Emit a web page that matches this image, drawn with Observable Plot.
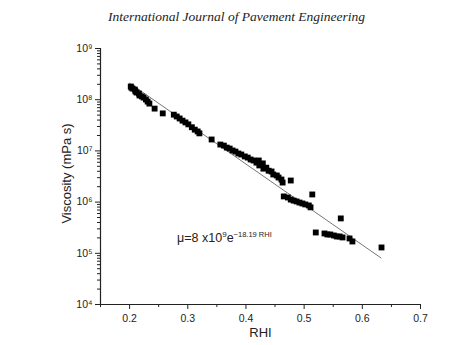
<!DOCTYPE html>
<html>
<head>
<meta charset="utf-8">
<script src="https://cdn.jsdelivr.net/npm/d3@7"></script>
<script src="https://cdn.jsdelivr.net/npm/@observablehq/plot@0.6"></script>
<style>
  html, body { margin: 0; padding: 0; background: #fff; }
  #wrap { width: 473px; height: 345px; position: relative; overflow: hidden; }
  #header { height: 30px; width: 473px; text-align: center; font-family: "Liberation Serif", "DejaVu Serif", serif; font-style: italic; font-size: 13.5px; color: #222; line-height: 34px; }
</style>
</head>
<body>
<div id="wrap">
  <div id="header">International Journal of Pavement Engineering</div>
  <div id="chart"></div>
</div>
<script>
// Measured data (RHI vs viscosity, mPa s)
const rhi = [
  0.202, 0.203, 0.205, 0.209, 0.210, 0.212, 0.216, 0.217, 0.221, 0.224, 0.228, 0.231, 0.234, 0.243, 0.257,
  0.276, 0.281, 0.286, 0.291, 0.296, 0.301, 0.307, 0.312, 0.317, 0.320, 0.341,
  0.356, 0.362, 0.367, 0.372, 0.377, 0.382, 0.387, 0.392, 0.398, 0.403, 0.408, 0.413, 0.418, 0.422, 0.423,
  0.429, 0.430, 0.435, 0.439, 0.444, 0.447, 0.453, 0.456, 0.461, 0.463, 0.477,
  0.465, 0.472, 0.477, 0.482, 0.487, 0.492, 0.497, 0.502, 0.508, 0.511, 0.514, 0.563,
  0.520, 0.535, 0.540, 0.545, 0.551, 0.556, 0.561, 0.566, 0.578, 0.583, 0.633
];
const viscosity = [
  1.81e8, 1.73e8, 1.65e8, 1.58e8, 1.45e8, 1.38e8, 1.32e8, 1.21e8, 1.16e8, 1.10e8, 1.01e8, 9.2e7, 8.4e7, 6.7e7, 5.4e7,
  5.1e7, 4.7e7, 4.3e7, 3.9e7, 3.6e7, 3.3e7, 2.9e7, 2.6e7, 2.4e7, 2.2e7, 1.67e7,
  1.33e7, 1.27e7, 1.16e7, 1.11e7, 1.02e7, 9.7e6, 8.9e6, 8.5e6, 7.8e6, 7.4e6, 6.8e6, 6.5e6, 5.9e6, 6.5e6, 5.2e6,
  5.7e6, 4.5e6, 4.7e6, 4.1e6, 3.96e6, 3.46e6, 3.31e6, 3.02e6, 2.76e6, 2.41e6, 2.64e6,
  1.29e6, 1.23e6, 1.12e6, 1.07e6, 1.03e6, 9.8e5, 9.4e5, 9.0e5, 8.6e5, 7.9e5, 1.41e6, 4.8e5,
  2.55e5, 2.44e5, 2.33e5, 2.33e5, 2.23e5, 2.13e5, 2.13e5, 2.04e5, 1.95e5, 1.70e5, 1.30e5
];
// Fit from the chart: mu = 8e9 * exp(-18.19 RHI)
const fitA = 8e9;
const fitB = -18.19;
const fitRange = [0.2, 0.632];

const xMajor = [0.2, 0.3, 0.4, 0.5, 0.6, 0.7];
const xMinor = [0.15, 0.25, 0.35, 0.45, 0.55, 0.65];
const yMajor = [1e4, 1e5, 1e6, 1e7, 1e8, 1e9];
const yMinor = [];
for (let e = 4; e < 9; e++) for (let m = 2; m <= 9; m++) yMinor.push(m * Math.pow(10, e));

const sup = "\u2070\u00b9\u00b2\u00b3\u2074\u2075\u2076\u2077\u2078\u2079";
const supStr = n => String(n).split("").map(c => sup[+c]).join("");

const points = rhi.map((r, i) => ({r, v: viscosity[i]}));
const fit = fitRange.map(r => ({r, v: fitA * Math.exp(fitB * r)}));

const plot = Plot.plot({
  width: 473,
  height: 315,
  marginTop: 18,
  marginBottom: 41,
  marginLeft: 100,
  marginRight: 53,
  style: {fontFamily: "'Liberation Sans', Arial, sans-serif", color: "#222", background: "#fff"},
  x: {domain: [0.15, 0.7]},
  y: {type: "log", domain: [1e4, 1e9]},
  marks: [
    Plot.ruleY([1e4], {stroke: "#222", strokeWidth: 1.2}),
    Plot.ruleX([0.15], {stroke: "#222", strokeWidth: 1.2}),
    Plot.axisX({ticks: xMajor, tickSize: 5, tickPadding: 5, tickFormat: d => d.toFixed(1), fontSize: 10.5, label: null, stroke: "#222"}),
    Plot.axisX({ticks: xMinor, tickSize: 3, tickFormat: () => "", label: null, stroke: "#222"}),
    Plot.axisY({ticks: yMajor, tickSize: 5, tickPadding: 3, tickFormat: d => "10" + supStr(Math.round(Math.log10(d))), fontSize: 10.5, label: null, stroke: "#222"}),
    Plot.axisY({ticks: yMinor, tickSize: 3, tickFormat: () => "", label: null, stroke: "#222"}),
    Plot.text(["RHI"], {frameAnchor: "bottom", dy: 32, fontSize: 13, fill: "#222"}),
    Plot.text(["Viscosity (mPa s)"], {frameAnchor: "left", dx: -34, dy: -3, rotate: -90, textAnchor: "middle", fontSize: 13, fill: "#222"}),
    Plot.line(fit, {x: "r", y: "v", stroke: "#777", strokeWidth: 1}),
    Plot.dot(points, {x: "r", y: "v", symbol: "square", r: 3.3, fill: "#000", stroke: "none"})
  ]
});
document.getElementById("chart").appendChild(plot);

// Equation annotation placed with the plot's scales
const sx = plot.scale("x"), sy = plot.scale("y");
const ax = sx.apply(0.2825), ay = sy.apply(1.6e5);
const t = d3.select(plot).append("text")
  .attr("x", ax).attr("y", ay)
  .attr("text-anchor", "start")
  .attr("font-family", "'Liberation Sans', Arial, sans-serif")
  .attr("font-size", 12.5).attr("fill", "#222");
t.append("tspan").text("\u03bc=8 x10");
t.append("tspan").attr("dy", -5).attr("font-size", 8).text("9");
t.append("tspan").attr("dy", 5).text("e");
t.append("tspan").attr("dy", -5).attr("font-size", 7.5).text("\u221218.19 RHI");
</script>
</body>
</html>
